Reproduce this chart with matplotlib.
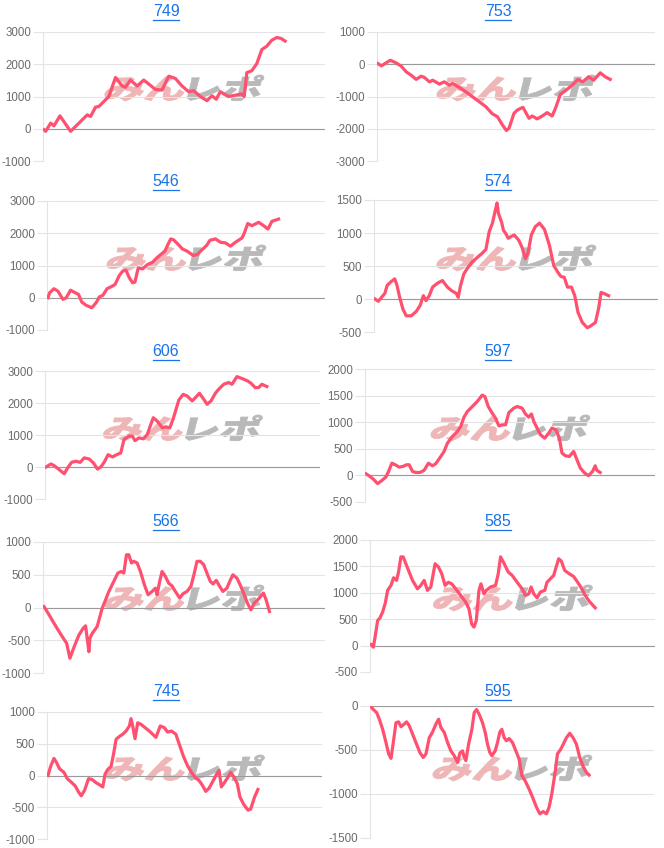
import matplotlib
matplotlib.use("Agg")
import matplotlib.pyplot as plt
from matplotlib.font_manager import FontProperties
from matplotlib.textpath import TextPath
from matplotlib.patches import PathPatch
from matplotlib.transforms import Affine2D, IdentityTransform
from matplotlib.lines import Line2D

plt.rcParams['font.family'] = ['Liberation Sans', 'DejaVu Sans']
plt.rcParams['axes.unicode_minus'] = False

# --- データ (台番号ごとの差枚推移) ---
names = ["749", "753", "546", "574", "606", "597", "566", "585", "745", "595"]

g749 = [0, 50, 200, 300, 480, 800, 1100, 1300, 1400, 1550, 1650, 1950, 2150, 2350, 2450, 2600, 2800, 3000, 3350, 3550,
        3750, 3950, 4150, 4350, 4500, 4700, 4900, 5050, 5180, 5300, 5550, 5800, 5950, 6020, 6100, 6250, 6400, 6550, 6700, 6850,
        7000, 7130, 7250]
v749 = [-30, -80, 175, 90, 400, -80, 225, 430, 380, 670, 690, 1000, 1590, 1325, 1285, 1510, 1325, 1510, 1220, 1200,
        1630, 1560, 1325, 1150, 1180, 1000, 870, 1020, 915, 1150, 1000, 1050, 1080, 1000, 1740, 1800, 2020, 2455, 2560, 2745,
        2830, 2800, 2720]

g753 = [0, 100, 370, 550, 700, 850, 1000, 1150, 1300, 1400, 1550, 1650, 1850, 2000, 2150, 2250, 2450, 2650, 2850, 3050,
        3250, 3450, 3600, 3750, 3870, 3950, 4100, 4200, 4370, 4550, 4650, 4800, 4950, 5100, 5250, 5350, 5500, 5650, 5850, 6030,
        6170, 6350, 6500, 6700, 6850, 7000]
v753 = [20, -50, 125, 40, -60, -235, -340, -470, -370, -410, -545, -495, -615, -545, -650, -595, -720, -855, -1010, -1160,
        -1315, -1540, -1625, -1880, -2055, -1985, -1520, -1420, -1335, -1675, -1605, -1695, -1605, -1500, -1605, -1365, -925, -820, -650, -470,
        -545, -390, -495, -265, -390, -470]

g546 = [0, 50, 180, 300, 450, 550, 680, 820, 920, 1020, 1150, 1320, 1450, 1550, 1650, 1780, 1900, 2020, 2150, 2250,
        2350, 2450, 2550, 2620, 2720, 2850, 3000, 3150, 3280, 3400, 3520, 3600, 3700, 3780, 3900, 4050, 4200, 4380, 4500, 4650,
        4780, 4880, 5050, 5200, 5350, 5500, 5650, 5850, 5920, 6020, 6150, 6350, 6500, 6630, 6750, 6950]
v546 = [0, 155, 280, 205, -50, 0, 235, 155, 105, -135, -235, -310, -155, 30, 70, 280, 340, 410, 690, 825,
        855, 620, 465, 485, 925, 895, 1030, 1100, 1235, 1340, 1440, 1620, 1825, 1800, 1680, 1515, 1440, 1310, 1340, 1495,
        1620, 1780, 1825, 1720, 1700, 1600, 1720, 1855, 2010, 2300, 2235, 2340, 2235, 2130, 2370, 2440]

g574 = [0, 100, 200, 300, 370, 470, 600, 670, 750, 850, 950, 1100, 1250, 1370, 1470, 1550, 1650, 1750, 1900, 2050,
        2200, 2330, 2470, 2530, 2600, 2700, 2800, 2950, 3100, 3250, 3370, 3470, 3570, 3670, 3710, 3750, 3850, 3900, 3970, 4050,
        4130, 4230, 4370, 4470, 4570, 4650, 4750, 4870, 5000, 5150, 5300, 5430, 5550, 5650, 5750, 5850, 5970, 6070, 6170, 6300,
        6450, 6550, 6700, 6800, 6870, 6950, 7100]
v574 = [0, -35, 25, 85, 205, 255, 305, 205, 25, -155, -255, -255, -190, -100, 50, -25, 50, 180, 240, 280,
        180, 125, 85, 25, 205, 380, 460, 560, 625, 690, 750, 1020, 1150, 1375, 1455, 1300, 1160, 1045, 995, 920,
        945, 970, 890, 780, 610, 700, 970, 1095, 1150, 1055, 815, 510, 410, 340, 330, 180, 180, 50, -205, -355,
        -435, -410, -355, -130, 100, 85, 50]

g606 = [0, 150, 250, 400, 550, 650, 770, 900, 1030, 1150, 1300, 1430, 1550, 1650, 1750, 1870, 2000, 2130, 2250, 2350,
        2500, 2600, 2680, 2800, 2930, 3050, 3130, 3230, 3350, 3500, 3600, 3730, 3830, 3900, 4000, 4130, 4250, 4400, 4500, 4620,
        4750, 4850, 4970, 5100, 5200, 5350, 5500, 5600, 5750, 5900, 6070, 6170, 6300, 6400, 6500, 6650]
v606 = [0, 95, 40, -85, -210, -30, 145, 180, 145, 285, 250, 125, -65, 0, 145, 385, 315, 385, 440, 860,
        965, 965, 825, 910, 880, 1015, 1255, 1540, 1435, 1225, 1255, 1225, 1510, 1750, 2095, 2270, 2220, 2065, 2170, 2305,
        2115, 1960, 2065, 2305, 2430, 2585, 2640, 2585, 2825, 2765, 2690, 2620, 2480, 2480, 2585, 2515]

g597 = [0, 120, 220, 350, 480, 600, 680, 780, 880, 1000, 1120, 1220, 1300, 1400, 1500, 1620, 1750, 1880, 2000, 2100,
        2250, 2350, 2450, 2600, 2750, 2850, 2950, 3050, 3200, 3350, 3500, 3580, 3680, 3800, 3900, 4000, 4100, 4200, 4300, 4450,
        4550, 4700, 4800, 4900, 4980, 5050, 5150, 5250, 5380, 5500, 5600, 5720, 5820, 5900, 6000, 6120, 6250, 6350, 6450, 6580,
        6700, 6820, 6900, 6950, 7050]
v597 = [30, -20, -70, -155, -95, -30, 75, 230, 200, 155, 170, 200, 200, 75, 55, 55, 95, 230, 180, 220,
        355, 450, 605, 730, 825, 920, 1095, 1200, 1295, 1390, 1510, 1480, 1295, 1170, 1075, 930, 950, 950, 1180, 1265,
        1295, 1265, 1155, 1095, 1155, 1015, 890, 765, 700, 795, 890, 855, 700, 420, 370, 355, 450, 295, 140, 45,
        -5, 75, 180, 95, 55]

g566 = [0, 150, 300, 450, 550, 680, 780, 850, 950, 1050, 1180, 1250, 1350, 1380, 1450, 1600, 1680, 1750, 1850, 1950,
        2100, 2220, 2320, 2400, 2480, 2550, 2630, 2700, 2800, 2900, 3020, 3130, 3250, 3350, 3400, 3480, 3550, 3650, 3750, 3850,
        3950, 4080, 4180, 4300, 4420, 4520, 4600, 4700, 4800, 4900, 5000, 5080, 5180, 5280, 5380, 5500, 5600, 5680, 5800, 5900,
        6020, 6120, 6220, 6320, 6450, 6600, 6680, 6780]
v566 = [15, -110, -240, -365, -445, -545, -775, -675, -545, -420, -315, -280, -675, -470, -395, -290, -140, -10, 115, 245,
        400, 525, 550, 525, 805, 805, 680, 705, 680, 550, 345, 195, 245, 295, 195, 400, 550, 475, 370, 330,
        245, 145, 210, 245, 325, 525, 705, 705, 655, 525, 400, 360, 415, 325, 245, 295, 415, 500, 450, 345,
        195, 65, -35, 65, 130, 220, 115, -60]

g585 = [0, 70, 130, 200, 270, 350, 430, 500, 600, 680, 770, 830, 900, 970, 1050, 1170, 1250, 1400, 1500, 1600,
        1700, 1800, 1930, 2030, 2130, 2230, 2330, 2430, 2550, 2700, 2850, 2950, 3030, 3100, 3170, 3250, 3310, 3400, 3470, 3600,
        3750, 3830, 3900, 4000, 4130, 4250, 4400, 4550, 4650, 4750, 4820, 4900, 5000, 5100, 5230, 5300, 5400, 5500, 5650, 5730,
        5830, 5970, 6100, 6200, 6330, 6450, 6570, 6750]
v585 = [20, -30, 190, 475, 525, 635, 805, 1045, 1140, 1285, 1235, 1395, 1680, 1680, 1550, 1360, 1235, 1075, 1140, 1235,
        1045, 1110, 1550, 1490, 1360, 1140, 1200, 1170, 1075, 950, 825, 695, 410, 350, 475, 1045, 1170, 980, 1045, 1110,
        1140, 1360, 1680, 1565, 1395, 1330, 1200, 1075, 950, 980, 1110, 980, 905, 1015, 1045, 1200, 1265, 1330, 1645, 1600,
        1425, 1360, 1310, 1220, 1095, 950, 840, 715]

g745 = [0, 80, 180, 250, 350, 480, 580, 700, 820, 920, 1000, 1100, 1220, 1320, 1450, 1550, 1650, 1720, 1800, 1900,
        1980, 2050, 2150, 2250, 2350, 2450, 2500, 2550, 2620, 2700, 2800, 2920, 3050, 3150, 3250, 3380, 3500, 3600, 3720, 3850,
        3950, 4080, 4200, 4320, 4420, 4550, 4650, 4750, 4850, 4950, 5080, 5150, 5220, 5320, 5420, 5500, 5600, 5700, 5780, 5900,
        6020, 6100, 6220, 6320]
v745 = [0, 145, 270, 210, 105, 50, -50, -105, -165, -260, -320, -235, -50, -60, -115, -145, -180, 25, 95, 145,
        355, 570, 615, 650, 700, 780, 895, 780, 580, 830, 805, 755, 700, 650, 600, 780, 755, 685, 700, 650,
        495, 300, 155, 50, -25, -80, -155, -250, -200, -105, 25, 80, -180, -105, -25, 50, -25, -130, -340, -460,
        -545, -530, -340, -220]

g595 = [0, 70, 170, 250, 350, 450, 530, 600, 670, 750, 830, 900, 1000, 1070, 1150, 1250, 1370, 1470, 1570, 1650,
        1750, 1850, 1950, 2030, 2100, 2200, 2300, 2400, 2500, 2600, 2670, 2750, 2800, 2850, 2930, 3030, 3100, 3170, 3250, 3350,
        3430, 3500, 3570, 3630, 3730, 3800, 3870, 3930, 4000, 4070, 4150, 4250, 4350, 4450, 4530, 4630, 4750, 4850, 4970, 5070,
        5170, 5270, 5350, 5430, 5530, 5600, 5700, 5800, 5870, 5970, 6070, 6170, 6270, 6370, 6470, 6550]
v595 = [-10, -40, -75, -150, -265, -415, -545, -595, -415, -190, -180, -235, -205, -180, -225, -320, -435, -530, -585, -545,
        -360, -295, -205, -150, -245, -300, -415, -510, -565, -640, -535, -510, -585, -620, -435, -265, -75, -40, -95, -190,
        -300, -435, -530, -565, -510, -415, -295, -265, -360, -395, -370, -415, -510, -605, -790, -850, -945, -1035, -1150, -1225,
        -1200, -1225, -1150, -1000, -755, -545, -490, -415, -360, -310, -360, -435, -585, -685, -755, -785]

games = [g749, g753, g546, g574, g606, g597, g566, g585, g745, g595]
values = [v749, v753, v546, v574, v606, v597, v566, v585, v745, v595]
x_max = [8450, 8350, 8350, 8600, 8250, 8700, 8450, 8550, 8250, 8500]
y_ticks = [
    [-1000, 0, 1000, 2000, 3000],
    [-3000, -2000, -1000, 0, 1000],
    [-1000, 0, 1000, 2000, 3000],
    [-500, 0, 500, 1000, 1500],
    [-1000, 0, 1000, 2000, 3000],
    [-500, 0, 500, 1000, 1500, 2000],
    [-1000, -500, 0, 500, 1000],
    [-500, 0, 500, 1000, 1500, 2000],
    [-1000, -500, 0, 500, 1000],
    [-1500, -1000, -500, 0],
]

# --- レイアウト (ピクセル) ---
W, H = 664, 848
lefts = [43, 377, 47, 374, 45, 365, 43, 370, 47, 370]
rights = [325, 655, 325, 658, 320, 655, 325, 655, 322, 654]
tops = [32, 32, 201, 200, 371, 369, 542, 540, 712, 706]
bottoms = [161, 161, 330, 332, 499, 502, 673, 672, 839, 838]

LINE = '#ff5070'
GRID = '#e4e4e4'
LINK = '#1a73e8'

fig = plt.figure(figsize=(W / 100, H / 100), dpi=100)
wm_font = FontProperties(family='Noto Sans CJK JP', weight='black')


def watermark(ax, cx, cy, w=155, h=26):
    """みんレポ のロゴ風透かし (ピクセル座標)"""
    p1 = TextPath((0, 0), 'みん', size=40, prop=wm_font)
    p2 = TextPath((0, 0), 'レポ', size=40, prop=wm_font)
    e1, e2 = p1.get_extents(), p2.get_extents()
    gap = 4
    tot = e1.width + gap + e2.width
    y0 = min(e1.y0, e2.y0)
    y1 = max(e1.y1, e2.y1)
    sx, sy = w / tot, h / (y1 - y0)
    for path, col, off in [(p1, '#eeb6b6', -e1.x0), (p2, '#b9b9b9', e1.width + gap - e2.x0)]:
        tr = (Affine2D().translate(off, -y0).scale(sx, sy)
              .translate(-w / 2, -h / 2).skew_deg(14, 0).translate(cx, cy))
        patch = PathPatch(path, transform=tr, facecolor=col, edgecolor=col, lw=0.6,
                          zorder=1, clip_on=False)
        ax.add_artist(patch)


titles = []
for i in range(10):
    row, col = divmod(i, 2)
    L, R, T, B = lefts[i], rights[i], tops[i], bottoms[i]
    ax = fig.add_axes([L / W, 1 - B / H, (R - L) / W, (B - T) / H])
    ax.set_facecolor('none')

    ax.plot(games[i], values[i], color=LINE, lw=2.3, zorder=3, solid_joinstyle='round')

    ticks = y_ticks[i]
    ax.set_ylim(ticks[0], ticks[-1])
    ax.set_xlim(-30, x_max[i])
    ax.set_yticks(ticks)
    ax.set_yticklabels([str(t) for t in ticks])
    ax.set_xticks([])
    ax.grid(axis='y', color=GRID, lw=0.8, zorder=0)
    ax.axhline(0, color='#9a9a9a', lw=0.8, zorder=2)
    ax.tick_params(axis='y', length=7.5, width=0.8, color=GRID, pad=1,
                   labelsize=8.3, labelcolor='#6b6b6b')
    for s in ['top', 'right', 'bottom']:
        ax.spines[s].set_visible(False)
    ax.spines['left'].set_color(GRID)
    ax.spines['left'].set_linewidth(0.8)

    watermark(ax, (L + R) / 2, H - (row * 170 + 88))

    t = fig.text((166 + 332 * col) / W, 1 - (12 + 170 * row) / H, names[i],
                 ha='center', va='center', fontsize=11.5, color=LINK)
    titles.append((t, row))

# タイトルの下線
fig.canvas.draw()
rend = fig.canvas.get_renderer()
for t, row in titles:
    bb = t.get_window_extent(rend)
    yy = H - (19.5 + 170 * row)
    fig.add_artist(Line2D([bb.x0, bb.x1], [yy, yy], transform=IdentityTransform(),
                          color=LINK, lw=0.9))

fig.savefig('out.png', dpi=100)
